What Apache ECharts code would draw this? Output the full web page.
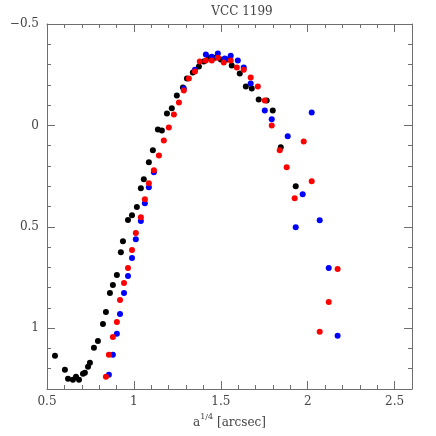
<!DOCTYPE html>
<html>
<head>
<meta charset="utf-8">
<script src="https://cdn.jsdelivr.net/npm/echarts@6/dist/echarts.min.js"></script>
<style>
  html, body { margin: 0; padding: 0; background: #fff; }
  #chart { width: 436px; height: 436px; }
</style>
</head>
<body>
<div id="chart"></div>
<script>
// data: [a^(1/4), O-C]
const blackPts = [
  [0.546, 1.136], [0.603, 1.205], [0.621, 1.249], [0.649, 1.254], [0.667, 1.240],
  [0.684, 1.254], [0.707, 1.225], [0.718, 1.220], [0.736, 1.190], [0.747, 1.171],
  [0.770, 1.097], [0.793, 1.063], [0.822, 0.979], [0.839, 0.920], [0.862, 0.826],
  [0.879, 0.787], [0.902, 0.738], [0.925, 0.625], [0.937, 0.571], [0.966, 0.467],
  [0.989, 0.443], [1.017, 0.403], [1.040, 0.310], [1.057, 0.266], [1.086, 0.182],
  [1.109, 0.123], [1.138, 0.020], [1.161, 0.025], [1.190, -0.059], [1.218, -0.084],
  [1.247, -0.148], [1.282, -0.187], [1.305, -0.231], [1.339, -0.261], [1.374, -0.290],
  [1.402, -0.315], [1.431, -0.334], [1.466, -0.334], [1.500, -0.325], [1.534, -0.325],
  [1.563, -0.295], [1.609, -0.256], [1.644, -0.192], [1.678, -0.182], [1.718, -0.128],
  [1.764, -0.123], [1.799, -0.074], [1.845, 0.108], [1.931, 0.300]
];

const redPts = [
  [0.839, 1.240], [0.856, 1.131], [0.879, 1.043], [0.902, 0.969], [0.920, 0.861],
  [0.943, 0.777], [0.966, 0.703], [0.989, 0.615], [1.011, 0.531], [1.040, 0.453],
  [1.063, 0.364], [1.086, 0.285], [1.115, 0.221], [1.144, 0.148], [1.172, 0.074],
  [1.201, 0.010], [1.230, -0.054], [1.259, -0.113], [1.287, -0.172], [1.316, -0.231],
  [1.351, -0.266], [1.379, -0.315], [1.414, -0.320], [1.448, -0.320], [1.483, -0.334],
  [1.517, -0.310], [1.557, -0.320], [1.592, -0.285], [1.632, -0.275], [1.672, -0.236],
  [1.713, -0.192], [1.753, -0.123], [1.793, 0.000], [1.839, 0.123], [1.879, 0.207],
  [1.925, 0.359], [1.977, 0.079], [2.023, 0.275], [2.069, 1.018], [2.121, 0.871],
  [2.172, 0.708]
];

const bluePts = [
  [0.856, 1.230], [0.879, 1.131], [0.902, 1.028], [0.920, 0.930], [0.943, 0.826],
  [0.966, 0.743], [0.989, 0.654], [1.011, 0.561], [1.040, 0.472], [1.063, 0.384],
  [1.086, 0.305], [1.115, 0.231], [1.287, -0.182], [1.351, -0.275], [1.414, -0.349],
  [1.448, -0.339], [1.483, -0.354], [1.523, -0.330], [1.557, -0.344], [1.598, -0.320],
  [1.632, -0.285], [1.672, -0.206], [1.753, -0.074], [1.793, -0.030], [1.885, 0.054],
  [2.023, -0.064], [1.971, 0.339], [1.931, 0.502], [2.069, 0.468], [2.121, 0.703],
  [2.172, 1.038]
];

const titleText = 'VCC 1199';
const xRange = [0.5, 2.6];
const yRange = [-0.5, 1.3];

const font = 'DejaVu Serif';
const axisColor = '#6e6e6e';
const textColor = '#444';

const chart = echarts.init(document.getElementById('chart'));

// shared look for the frame axes, ticks point inward on all four sides
const frameAxis = (extra) => Object.assign({
  type: 'value',
  interval: 0.5,
  axisLine: { show: true, onZero: false, lineStyle: { color: axisColor, width: 1 } },
  axisTick: { show: true, inside: true, length: 8, lineStyle: { color: axisColor } },
  minorTick: { show: true, splitNumber: 5, length: 4, lineStyle: { color: axisColor } },
  splitLine: { show: false },
  minorSplitLine: { show: false }
}, extra);

const minusFmt = (v) => (Math.abs(v % 0.5) > 1e-6 ? '' : String(v).replace('-', '\u2212'));

const dot = (name, color, data) => ({
  name: name,
  type: 'scatter',
  data: data,
  symbol: 'circle',
  symbolSize: 6,
  itemStyle: { color: color, opacity: 1 },
  animation: false
});

chart.setOption({
  backgroundColor: '#fff',
  title: {
    text: titleText,
    left: 237,
    textAlign: 'center',
    top: 1,
    textStyle: { fontFamily: font, fontSize: 12, fontWeight: 'normal', color: textColor }
  },
  grid: { left: 47, right: 24, top: 24, bottom: 47, containLabel: false, outerBoundsMode: 'none' },
  xAxis: [
    frameAxis({
      min: xRange[0], max: xRange[1], position: 'bottom',
      name: '{a|a}{s|1/4}{a| [arcsec]}',
      nameLocation: 'middle',
      nameGap: 22,
      nameTextStyle: {
        rich: {
          a: { fontFamily: font, fontSize: 12, color: textColor, verticalAlign: 'bottom', lineHeight: 16 },
          s: { fontFamily: font, fontSize: 8, color: textColor, verticalAlign: 'top', lineHeight: 16 }
        }
      },
      axisLabel: { show: true, margin: 7, fontFamily: font, fontSize: 12, color: textColor,
        showMaxLabel: false, formatter: minusFmt }
    }),
    frameAxis({
      min: xRange[0], max: xRange[1], position: 'top',
      axisLabel: { show: false }
    })
  ],
  yAxis: [
    frameAxis({
      min: yRange[0], max: yRange[1], inverse: true, position: 'left',
      name: 'O\u2212C [mag]',
      nameLocation: 'middle',
      nameGap: 32,
      nameTextStyle: { fontFamily: font, fontSize: 12, color: textColor },
      axisLabel: { show: true, margin: 8, fontFamily: font, fontSize: 12, color: textColor,
        showMaxLabel: false, formatter: minusFmt }
    }),
    frameAxis({
      min: yRange[0], max: yRange[1], inverse: true, position: 'right',
      axisLabel: { show: false }
    })
  ],
  series: [
    dot('black', '#000000', blackPts),
    dot('blue', '#0000ff', bluePts),
    dot('red', '#ff0000', redPts)
  ]
});
</script>
</body>
</html>
